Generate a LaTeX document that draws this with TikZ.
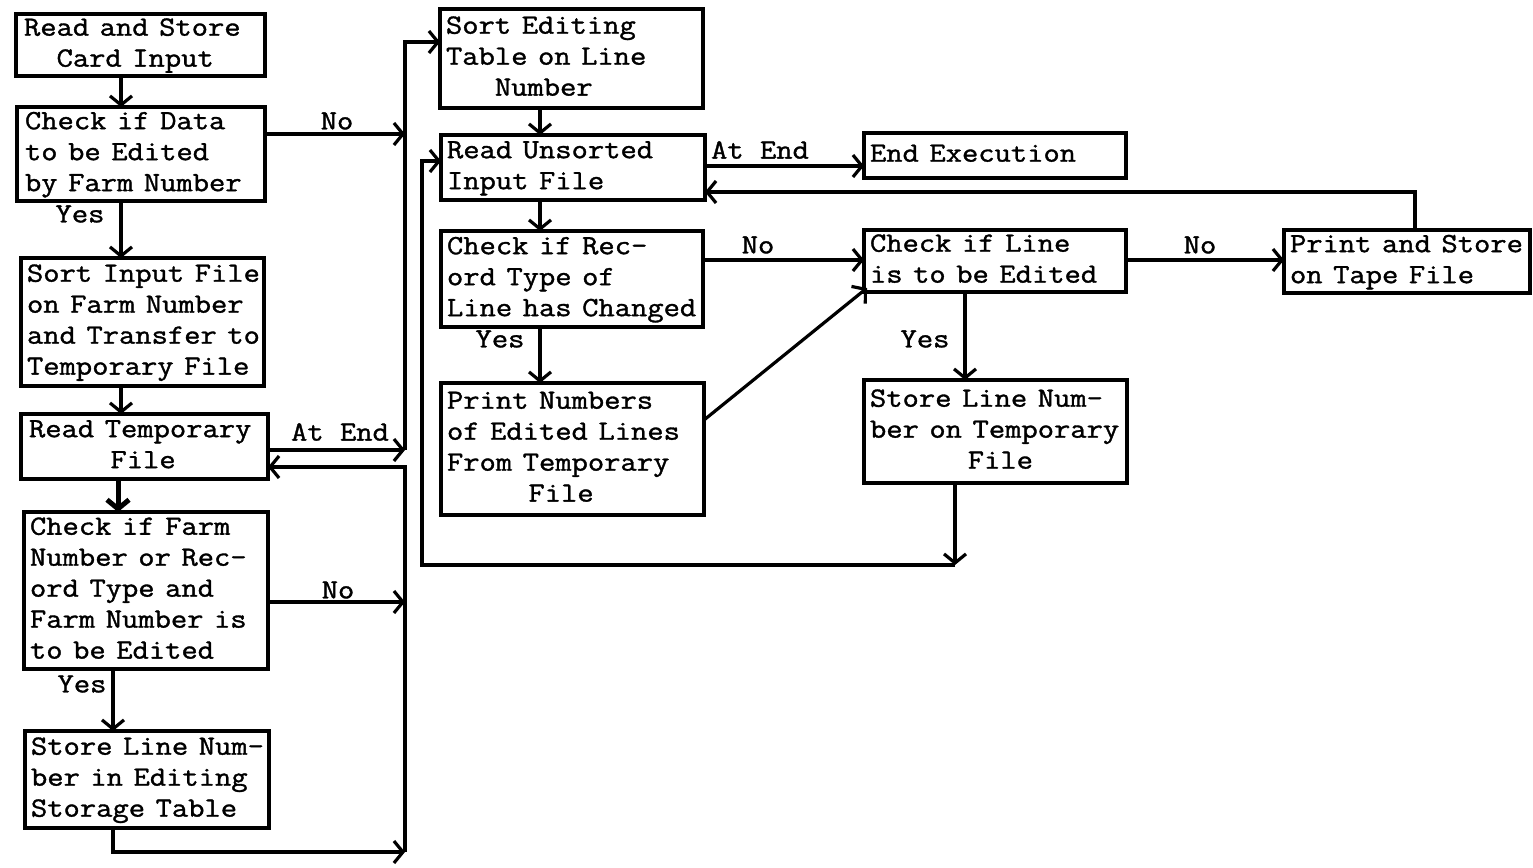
\documentclass[tikz,border=0pt]{standalone}
\usepackage{fontspec}
\usepackage{graphicx}
\setmonofont{Latin Modern Mono}[FakeBold=1.2]
\usetikzlibrary{arrows.meta}
\newcommand\twfont{\ttfamily\fontsize{29.3pt}{32.6pt}\selectfont}
\newcommand\txl[1]{\scalebox{1.08}[0.95]{\begin{tabular}{@{}l@{}}#1\end{tabular}}}
\newcommand\lab[1]{\scalebox{1.08}[0.95]{#1}}
\tikzset{
 x=1pt, y=-1pt,
 fbox/.style={draw, line width=3.5pt, anchor=north west, inner xsep=8pt, inner ysep=0pt, outer sep=0pt, align=left, font=\twfont},
 lbl/.style={font=\twfont, inner sep=0pt},
 conn/.style={line width=3.2pt, -{Straight Barb[length=9pt,width=22pt]}},
}
\begin{document}
\begin{tikzpicture}
\useasboundingbox (0,0) rectangle (1533,867);
% left column
\node[fbox, minimum width=249, minimum height=61, text width=233] (b1) at (16,14) {\txl{Read and Store\\\phantom{xx}Card Input}};
\node[fbox, minimum width=248, minimum height=94, text width=232] (b2) at (17,107) {\txl{Check if Data\\to be Edited\\by Farm Number}};
\node[fbox, minimum width=243, minimum height=128, text width=231, inner xsep=6pt] (b3) at (21,258) {\txl{Sort Input File\\on Farm Number\\and Transfer to\\Temporary File}};
\node[fbox, minimum width=247, minimum height=65, text width=231] (b4) at (21,414) {\txl{Read Temporary\\\phantom{xxxxx}File}};
\node[fbox, minimum width=244, minimum height=157, text width=232, inner xsep=6pt] (b5) at (24,512) {\txl{Check if Farm\\Number or Rec-\\ord Type and\\Farm Number is\\to be Edited}};
\node[fbox, minimum width=244, minimum height=97, text width=232, inner xsep=6pt] (b6) at (25,731) {\txl{Store Line Num-\\ber in Editing\\Storage Table}};
% middle column
\node[fbox, minimum width=263, minimum height=99, text width=251, inner xsep=6pt] (c1) at (440,9) {\txl{Sort Editing\\Table on Line\\\phantom{xxx}Number}};
\node[fbox, minimum width=264, minimum height=65, text width=252, inner xsep=6pt] (c2) at (441,135) {\txl{Read Unsorted\\Input File}};
\node[fbox, minimum width=262, minimum height=96, text width=250, inner xsep=6pt] (c3) at (441,231) {\txl{Check if Rec-\\ord Type of\\Line has Changed}};
\node[fbox, minimum width=263, minimum height=132, text width=251, inner xsep=6pt] (c4) at (441,383) {\txl{Print Numbers\\of Edited Lines\\From Temporary\\\phantom{xxxxx}File}};
% right columns
\node[fbox, minimum width=262, minimum height=45, text width=250, inner xsep=6pt] (d1) at (864,133) {\txl{End Execution}};
\node[fbox, minimum width=262, minimum height=62, text width=250, inner xsep=6pt] (d2) at (864,230) {\txl{Check if Line\\is to be Edited}};
\node[fbox, minimum width=263, minimum height=103, text width=251, inner xsep=6pt] (d3) at (864,380) {\txl{Store Line Num-\\ber on Temporary\\\phantom{xxxxxx}File}};
\node[fbox, minimum width=246, minimum height=63, text width=234, inner xsep=6pt] (e1) at (1284,230) {\txl{Print and Store\\on Tape File}};
% junctions
\coordinate (j0) at (405,42);
\coordinate (j1) at (405,134);
\coordinate (j2) at (405,450);
\coordinate (j3) at (405,467);
\coordinate (j4) at (405,602);
\coordinate (j5) at (405,852);
\coordinate (hEnd) at (0,166);
\coordinate (hRet) at (0,192);
\coordinate (hNo) at (0,260);
\coordinate (lp1) at (955,565);
\coordinate (lp2) at (422,565);
\coordinate (lp3) at (422,161);
% left connectors
\draw[conn] ([xshift=105pt]b1.south west) -- ([xshift=104pt]b2.north west);
\draw[conn] ([xshift=104pt]b2.south west) -- ([xshift=100pt]b3.north west);
\draw[conn] ([xshift=100pt]b3.south west) -- ([xshift=100pt]b4.north west);
\draw[conn, line width=5pt] ([xshift=97pt]b4.south west) -- ([xshift=94pt]b5.north west);
\draw[conn] ([xshift=89pt]b5.south west) -- ([xshift=88pt]b6.north west);
\draw[conn] (b2.east |- j1) -- (j1);
\draw[conn] (b4.east |- j2) -- (j2);
\draw[conn] (j2) -- (j0) -- (c1.west |- j0);
\draw[conn] (j5) -- (j3) -- (b4.east |- j3);
\draw[conn] (b5.east |- j4) -- (j4);
\draw[conn] ([xshift=88pt]b6.south west) |- (j5);
% right connectors
\draw[conn] ([xshift=100pt]c1.south west) -- ([xshift=99pt]c2.north west);
\draw[conn] (c2.east |- hEnd) -- (d1.west |- hEnd);
\draw[conn] ([xshift=131pt]e1.north west) |- (c2.east |- hRet);
\draw[conn] ([xshift=99pt]c2.south west) -- ([xshift=99pt]c3.north west);
\draw[conn] (c3.east |- hNo) -- (d2.west |- hNo);
\draw[conn] (d2.east |- hNo) -- (e1.west |- hNo);
\draw[conn] ([xshift=99pt]c3.south west) -- ([xshift=99pt]c4.north west);
\draw[conn] ([yshift=-37pt]c4.north east) -- ([xshift=3pt,yshift=4pt]d2.south west);
\draw[conn] ([xshift=101pt]d2.south west) -- ([xshift=101pt]d3.north west);
\draw[conn] ([xshift=91pt]d3.south west) -- (lp1);
\draw[conn] (lp1) -- (lp2) -- (lp3) -- (c2.west |- lp3);
% labels
\node[lbl] (l1) at (337,121) {\lab{No}};
\node[lbl] (l2) at (80,214) {\lab{Yes}};
\node[lbl] (l3) at (340,432) {\lab{At End}};
\node[lbl] (l4) at (338,590) {\lab{No}};
\node[lbl] (l5) at (82,684) {\lab{Yes}};
\node[lbl] (l6) at (760,150) {\lab{At End}};
\node[lbl] (l7) at (758,245) {\lab{No}};
\node[lbl] (l8) at (500,339) {\lab{Yes}};
\node[lbl] (l9) at (925,339) {\lab{Yes}};
\node[lbl] (l10) at (1200,245) {\lab{No}};
\end{tikzpicture}
\end{document}
